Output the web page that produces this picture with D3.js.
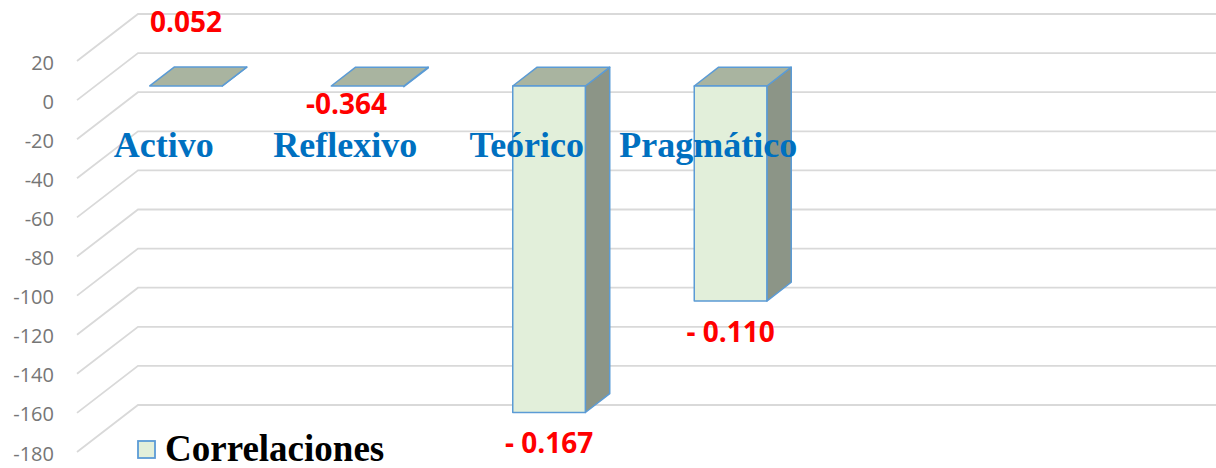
<!DOCTYPE html>
<html><head><meta charset="utf-8">
<script src="https://cdn.jsdelivr.net/npm/d3@7"></script>
<style>html,body{margin:0;padding:0;background:#fff;overflow:hidden}</style>
</head><body>
<svg id="chart" width="1216" height="468"></svg>
<script>
// ---- data ----
const categories = ["Activo", "Reflexivo", "Teórico", "Pragmático"];
const values = [0.052, -0.364, -167, -110];
const valueLabels = ["0.052", "-0.364", "- 0.167", "- 0.110"];
const yTicks = [20, 0, -20, -40, -60, -80, -100, -120, -140, -160, -180];
const seriesName = "Correlaciones";

// ---- layout ----
const W = 1216, H = 468;
const svg = d3.select("#chart");
const depthDx = 61, depthDy = 47;      // full wall depth (front is left/down of back)
const fBack = 0.3, fFront = 0.7;       // bar depth range (0 = back wall, 1 = front edge)
const wallLeft = 138;
const step = 181.5;

const y = d3.scaleLinear().domain([-180, 20]).range([405, 14]);
const x = d3.scaleBand().domain(categories)
  .range([wallLeft, wallLeft + step * categories.length])
  .paddingInner(0.6).paddingOuter(0.3);

const P = (xb, yb, f) => [xb - depthDx * f, yb + depthDy * f];

const grid = "#d9d9d9";
// gridlines: back wall + side wall diagonal
const g = svg.append("g");
yTicks.forEach(t => {
  const yb = y(t);
  const fr = P(wallLeft, yb, 1);
  g.append("path")
    .attr("d", `M${fr[0]},${fr[1]}L${wallLeft},${yb}L${W},${yb}`)
    .attr("fill", "none").attr("stroke", grid).attr("stroke-width", 1.8);
  g.append("text")
    .attr("x", 54).attr("y", fr[1] + 1)
    .attr("text-anchor", "end").attr("dominant-baseline", "central")
    .attr("font-family", "'Open Sans', sans-serif").attr("font-size", 20)
    .attr("fill", "#767676").text(t);
});

// bars
const stroke = "#5b9bd5", frontFill = "#e2efda", topFill = "#a9b4a0", sideFill = "#8c9587";
const bars = svg.append("g");
const poly = pts => "M" + pts.map(p => p.join(",")).join("L") + "Z";
values.forEach((v, i) => {
  const x0 = x(categories[i]), x1 = x0 + x.bandwidth();
  const yTop = y(Math.max(v, 0)), yBot = y(Math.min(v, 0));
  const fTL = P(x0, yTop, fFront), fTR = P(x1, yTop, fFront);
  const fBL = P(x0, yBot, fFront), fBR = P(x1, yBot, fFront);
  const bTL = P(x0, yTop, fBack), bTR = P(x1, yTop, fBack);
  const bBR = P(x1, yBot, fBack);
  const common = s => s.attr("stroke", stroke).attr("stroke-width", 1.5).attr("stroke-linejoin", "round");
  // side face
  common(bars.append("path").attr("d", poly([fTR, bTR, bBR, fBR])).attr("fill", sideFill));
  // top face
  common(bars.append("path").attr("d", poly([fTL, bTL, bTR, fTR])).attr("fill", topFill));
  // front face
  if (Math.abs(yBot - yTop) > 1)
    common(bars.append("path").attr("d", poly([fTL, fTR, fBR, fBL])).attr("fill", frontFill));
});

// category labels
const catG = svg.append("g");
categories.forEach((c, i) => {
  const cx = x(c) + x.bandwidth() / 2 - depthDx - 4;
  catG.append("text")
    .attr("x", cx).attr("y", y(0) + depthDy + 57)
    .attr("text-anchor", "middle")
    .attr("font-family", "'Liberation Serif', 'Times New Roman', serif")
    .attr("font-weight", "bold").attr("font-size", 36)
    .attr("fill", "#0070c0").text(c);
});

// value labels
const lblG = svg.append("g");
values.forEach((v, i) => {
  const cx = x(categories[i]) + x.bandwidth() / 2 - depthDx * fFront;
  let ly, lx = cx;
  if (v > 0) ly = P(0, y(v), fFront)[1] - 54;
  else if (Math.abs(v) < 1) { ly = P(0, y(v), fFront)[1] + 27; lx = cx - 21; }
  else ly = P(0, y(v), fFront)[1] + 41;
  lblG.append("text")
    .attr("x", lx).attr("y", ly)
    .attr("text-anchor", "middle")
    .attr("font-family", "'Open Sans', sans-serif")
    .attr("font-weight", "bold").attr("font-size", 28)
    .attr("fill", "#ff0000").text(valueLabels[i]);
});

// legend
const lg = svg.append("g");
lg.append("rect").attr("x", 138).attr("y", 441).attr("width", 17).attr("height", 17)
  .attr("fill", frontFill).attr("stroke", stroke).attr("stroke-width", 1.8);
lg.append("text").attr("x", 165).attr("y", 461)
  .attr("font-family", "'Liberation Serif', 'Times New Roman', serif")
  .attr("font-weight", "bold").attr("font-size", 37)
  .attr("fill", "#000").text(seriesName);
</script>
</body></html>
